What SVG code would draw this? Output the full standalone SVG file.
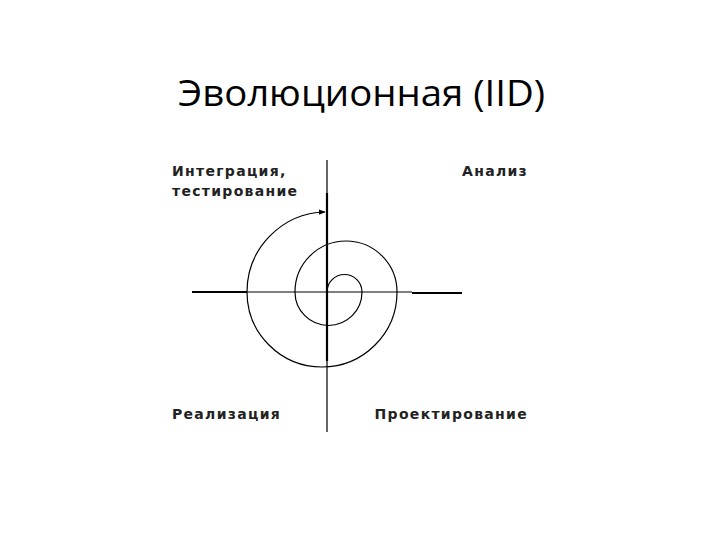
<svg xmlns="http://www.w3.org/2000/svg" width="720" height="540" viewBox="0 0 720 540">
<style>
.title{font-family:"Open Sans","Liberation Sans",sans-serif;font-size:36px;fill:#000}
.lbl{font-family:"DejaVu Sans","Liberation Sans",sans-serif;font-size:14px;font-weight:bold;fill:#222;letter-spacing:1.3px}
.thin{stroke:#000;stroke-width:1.2;fill:none}
.thick{stroke:#000;stroke-width:2.2;fill:none}
</style>
<defs>
<marker id="arr" viewBox="0 0 10 10" refX="9" refY="5" markerWidth="7" markerHeight="7" orient="auto" markerUnits="userSpaceOnUse">
<path d="M0,1 L10,5 L0,9 z" fill="#000"/>
</marker>
</defs>
<rect width="720" height="540" fill="#fff"/>
<text id="title" class="title" x="178" y="106" textLength="367" lengthAdjust="spacingAndGlyphs">Эволюционная (IID)</text>
<g id="axes">
<line class="thin" x1="327" y1="160" x2="327" y2="193"/>
<line class="thick" x1="327" y1="193" x2="327" y2="361"/>
<line class="thin" x1="327" y1="361" x2="327" y2="432"/>
<line class="thick" x1="192" y1="292" x2="247" y2="292"/>
<line class="thin" x1="247" y1="292" x2="412" y2="292"/>
<line class="thick" x1="412" y1="293" x2="462" y2="293"/>
</g>
<g id="connectors">
<path id="spiral" class="thin" d="M327,292 A17.5,17.5 0 0 1 362,292 A33.5,33.5 0 0 1 295,292 A51,51 0 0 1 397,292 A75,75 0 0 1 247,292 A80,80 0 0 1 325,212" marker-end="url(#arr)"/>
</g>
<g id="n-integr"><text class="lbl" x="172" y="176">Интеграция,</text><text class="lbl" x="172" y="196">тестирование</text></g>
<g id="n-analiz"><text class="lbl" x="528" y="176" text-anchor="end">Анализ</text></g>
<g id="n-real"><text class="lbl" x="172" y="419">Реализация</text></g>
<g id="n-proekt"><text class="lbl" x="528" y="419" text-anchor="end">Проектирование</text></g>
</svg>
